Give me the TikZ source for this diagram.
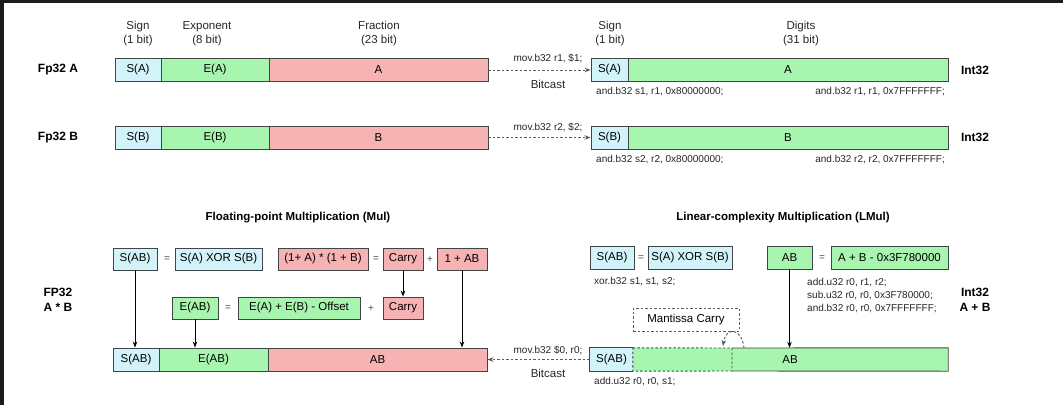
\documentclass[tikz,border=0pt]{standalone}
\usepackage{fontspec}
\setmainfont{Liberation Sans}
\usetikzlibrary{arrows.meta}
\definecolor{sgnblue}{HTML}{D2F3F9}
\definecolor{expgreen}{HTML}{A8F5B0}
\definecolor{frared}{HTML}{F7B2B3}
\definecolor{edge}{HTML}{3E4646}
\definecolor{frame}{HTML}{1C1C1C}
\definecolor{cast}{HTML}{5A5A5A}
\newcommand{\boxfont}{\fontsize{11.5}{14}\selectfont}
\newcommand{\codefont}{\fontsize{10}{13}\selectfont}
\newcommand{\headfont}{\fontsize{11.5}{14}\selectfont}
\newcommand{\tagfont}{\fontsize{12}{15}\selectfont\bfseries}
\tikzset{
  field/.style={draw=edge, line width=0.9pt, inner sep=0pt, minimum height=23,
    font=\boxfont, text=black},
  sgn/.style={field, fill=sgnblue},
  expo/.style={field, fill=expgreen},
  frac/.style={field, fill=frared},
  bare/.style={inner sep=0pt, minimum height=23, font=\boxfont},
  op/.style={inner sep=0pt, font=\fontsize{10}{12}\selectfont, text=black!70},
  code/.style={inner sep=0pt, font=\codefont, text=black!85},
  head/.style={inner sep=0pt, align=center, font=\headfont, text=black!85},
  tag/.style={inner sep=0pt, align=center, font=\tagfont},
  title/.style={inner sep=0pt, font=\fontsize{11.5}{14}\selectfont\bfseries},
  flow/.style={draw=black, line width=0.8pt, -{Stealth[length=6pt,width=4.5pt]}},
  castarrow/.style={draw=cast, line width=0.9pt, dash pattern=on 2.5pt off 2pt,
    -{Stealth[length=6pt,width=4.5pt]}},
}
\begin{document}
\begin{tikzpicture}[x=1pt,y=-1pt]
% page and dark frame edges
\fill[white] (0,0) rectangle (1063,405);
\fill[frame] (0,0) rectangle (1063,3);
\fill[frame] (0,0) rectangle (4,405);
\useasboundingbox (0,0) rectangle (1063,405);

% ---------- column headers ----------
\node[head] (hs)  at (138,34) {Sign\\(1 bit)};
\node[head] (he)  at (207,34) {Exponent\\(8 bit)};
\node[head] (hf)  at (379,34) {Fraction\\(23 bit)};
\node[head] (hs2) at (610,34) {Sign\\(1 bit)};
\node[head] (hd)  at (801,34) {Digits\\(31 bit)};

% ---------- Fp32 A / B ----------
\node[tag] (la) at (58,70) {Fp32 A};
\node[tag] (lb) at (58,138) {Fp32 B};
\node[sgn,  minimum width=46]  (sa) at (138,70) {S(A)};
\node[expo, minimum width=108] (ea) at (215,70) {E(A)};
\node[frac, minimum width=219] (fa) at (378.5,70) {A};
\node[sgn,  minimum width=46]  (sb) at (138,137.5) {S(B)};
\node[expo, minimum width=108] (eb) at (215,137.5) {E(B)};
\node[frac, minimum width=219] (fb) at (378.5,137.5) {B};

% ---------- Int32 A / B ----------
\node[sgn,  minimum width=37]  (isa) at (609.5,70) {S(A)};
\node[expo, minimum width=320] (ida) at (788,70) {A};
\node[sgn,  minimum width=37]  (isb) at (609.5,137.5) {S(B)};
\node[expo, minimum width=320] (idb) at (788,137.5) {B};
\node[tag] (ia) at (975,70) {Int32};
\node[tag] (ib) at (975,137) {Int32};

% bitcasts to integer
\draw[castarrow] (fa.east) -- (isa.west);
\draw[castarrow] (fb.east) -- (isb.west);
\node[code] (mova) at (548,58) {mov.b32 r1, \$1;};
\node[head] (bca)  at (548,84) {Bitcast};
\node[code] (movb) at (548,127) {mov.b32 r2, \$2;};
\node[code, anchor=west] (ca1) at (596,92) {and.b32 s1, r1, 0x80000000;};
\node[code, anchor=east] (ca2) at (945,92) {and.b32 r1, r1, 0x7FFFFFFF;};
\node[code, anchor=west] (cb1) at (596,160) {and.b32 s2, r2, 0x80000000;};
\node[code, anchor=east] (cb2) at (945,160) {and.b32 r2, r2, 0x7FFFFFFF;};

% ---------- floating-point multiplication ----------
\node[title] (t1) at (298,218) {Floating-point Multiplication (Mul)};
\node[tag] (lab) at (58,300) {FP32\\A * B};

\node[sgn,  minimum width=44, minimum height=22] (sab1) at (135,259) {S(AB)};
\node[op] (eq1) at (167,259.5) {=};
\node[sgn,  minimum width=87, minimum height=22] (xor1) at (218.5,259) {S(A) XOR S(B)};
\node[frac, minimum width=90, minimum height=22] (prod) at (323,259) {(1+ A) * (1 + B)};
\node[op] (eq2) at (376,259.5) {=};
\node[frac, minimum width=40, minimum height=22] (car1) at (403,259) {Carry};
\node[op] (pl1) at (430,259.5) {+};
\node[frac, minimum width=50, minimum height=22] (oab) at (462,259) {1 + AB};

\node[expo, minimum width=46, minimum height=22]  (eab1) at (195,308) {E(AB)};
\node[op] (eq3) at (228,308.5) {=};
\node[expo, minimum width=122, minimum height=22] (esum) at (299,308) {E(A) + E(B) - Offset};
\node[op] (pl2) at (371,308.5) {+};
\node[frac, minimum width=40, minimum height=22]  (car2) at (403,308) {Carry};

\node[sgn,  minimum width=46]  (sab2) at (136,359.5) {S(AB)};
\node[expo, minimum width=109] (eab2) at (213.5,359.5) {E(AB)};
\node[frac, minimum width=219] (ab2)  at (377.5,359.5) {AB};

\draw[flow] (sab1.south) -- (sab1.south |- sab2.north);
\draw[flow] (eab1.south) -- (eab1.south |- eab2.north);
\draw[flow] (car1.south) -- (car2.north);
\draw[flow] (oab.south) -- (oab.south |- ab2.north);

% ---------- linear-complexity multiplication ----------
\node[title] (t2) at (783,218) {Linear-complexity Multiplication (LMul)};
\node[tag] (lab2) at (975,300) {Int32\\A + B};

\node[sgn,  minimum width=44] (sab3) at (612,257.5) {S(AB)};
\node[op] (eq4) at (641,258) {=};
\node[sgn,  minimum width=84] (xor3) at (690,257.5) {S(A) XOR S(B)};
\node[code, anchor=west] (cx) at (594,282) {xor.b32 s1, s1, s2;};

\node[expo, minimum width=45]  (ab3)  at (789.5,257.5) {AB};
\node[op] (eq5) at (822,258) {=};
\node[expo, minimum width=117] (form) at (889.5,257.5) {A + B - 0x3F780000};
\node[code, anchor=west, align=left] (cadd) at (807,296)
  {add.u32 r0, r1, r2;\\sub.u32 r0, r0, 0x3F780000;\\and.b32 r0, r0, 0x7FFFFFFF;};

\node[draw=cast, line width=0.9pt, dash pattern=on 2.5pt off 2pt, inner sep=0pt,
  minimum width=106, minimum height=23, font=\boxfont] (mc) at (686,319.5) {Mantissa Carry};

% result word with the carry region marked
\node[fill=sgnblue, inner sep=0pt, minimum width=43, minimum height=23, font=\boxfont]
  (sab4) at (611.5,359.5) {S(AB)};
\node[fill=expgreen, inner sep=0pt, minimum width=315, minimum height=23] (ab4) at (790.5,359.5) {};
\node[bare] (abt) at (790,359.5) {AB};
\coordinate (cl) at (732,348);
\coordinate (cr) at (732,371);
\draw[edge, line width=0.9pt] (sab4.north east) -- (sab4.north west) -- (sab4.south west) -- (sab4.south east);
\draw[edge, line width=0.9pt] (cl) -- (ab4.north east) -- (ab4.south east) -- (cr);
\draw[edge, line width=0.9pt, dash pattern=on 2.5pt off 2pt]
  (ab4.north west) -- (cl) -- (cr) -- (ab4.south west) -- cycle;

\coordinate (cstart) at (744,348);
\coordinate (cend) at (723,346);
\draw[castarrow] (cstart) .. controls (742,328) and (726,326) .. (cend);
\draw[flow] (ab3.south) -- (ab3.south |- ab4.north);

% bitcast back to float
\draw[castarrow] (sab4.west) -- (ab2.east);
\node[code] (movr) at (548,350) {mov.b32 \$0, r0;};
\node[head] (bcr)  at (548,373) {Bitcast};
\node[code, anchor=west] (cs) at (594,382) {add.u32 r0, r0, s1;};
\end{tikzpicture}
\end{document}
